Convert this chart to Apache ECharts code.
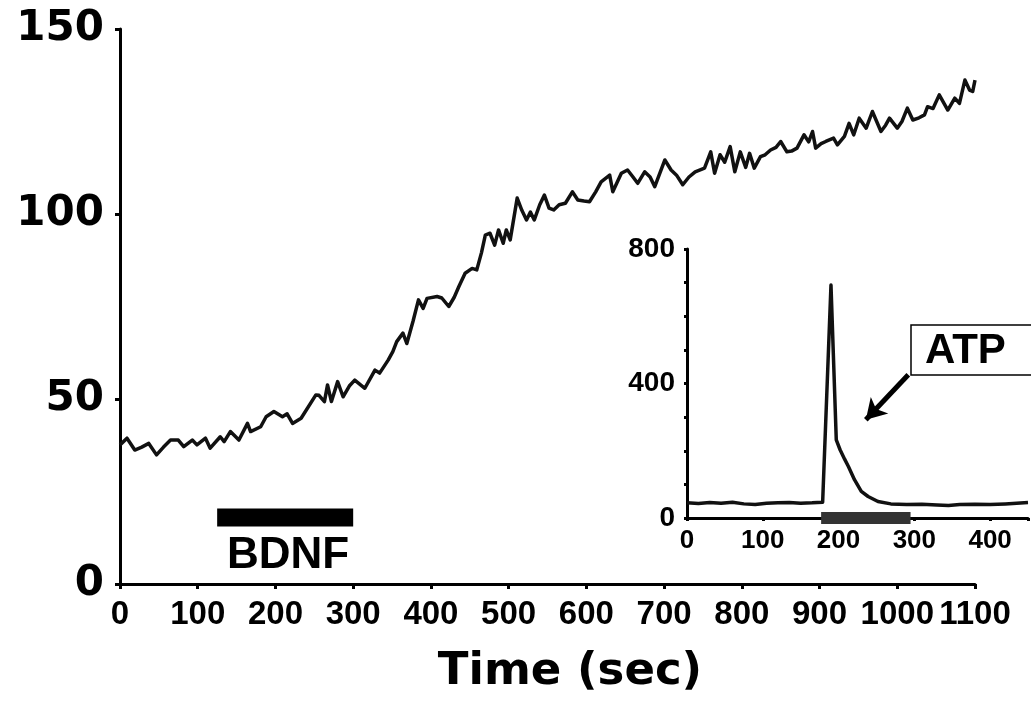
<!DOCTYPE html>
<html><head><meta charset="utf-8">
<script src="https://cdn.jsdelivr.net/npm/echarts/dist/echarts.min.js"></script>
<style>html,body{margin:0;padding:0;background:#fff}#c{width:1031px;height:713px}</style>
</head><body><div id="c"></div>
<script>
// Main trace (time in sec, signal)
const mainTime = [0,9,19,28,37,47,56,65,75,82,93,99,110,116,129,134,142,153,164,168,181,188,198,209,215,222,233,252,256,263,267,272,280,287,295,302,315,328,334,345,351,356,364,369,377,384,390,395,408,414,423,430,436,444,453,459,465,470,476,482,487,493,497,502,511,517,523,528,533,540,546,552,558,565,573,582,589,597,604,612,619,630,634,645,653,660,666,675,682,688,701,709,716,724,732,740,752,760,765,772,778,785,791,798,805,810,816,824,830,837,844,850,858,864,871,880,886,891,895,902,908,918,923,932,938,944,951,960,968,979,985,990,1000,1006,1013,1020,1028,1035,1039,1046,1054,1065,1074,1080,1087,1093,1097,1100];
const mainSignal = [37.6,39.4,36.2,37.0,38.0,34.9,37.0,38.9,38.9,37.1,38.9,37.6,39.4,36.7,39.8,38.5,41.2,38.9,43.4,41.2,42.5,45.2,46.6,45.2,46.0,43.4,44.8,51.1,51.0,49.3,53.8,49.3,54.7,50.6,53.5,55.1,52.9,57.8,57.0,60.5,62.8,65.5,67.8,65.0,71.0,76.8,74.5,77.2,77.7,77.3,75.0,77.5,80.4,84.0,85.3,84.9,89.5,94.3,94.8,91.6,95.7,92.1,95.7,93.0,104.3,101.0,98.4,100.5,98.4,102.5,105.1,101.6,101.1,102.5,102.9,106.0,103.8,103.5,103.3,106.0,108.7,110.5,106.0,111.0,111.9,110.0,108.3,111.4,110.0,107.4,114.6,111.9,110.5,107.9,110.0,111.4,112.4,116.8,111.0,116.0,114.0,118.2,111.4,116.8,112.6,116.4,112.4,115.5,116.0,117.3,118.0,119.6,116.8,117.0,117.8,121.4,119.5,122.3,117.8,119.0,119.6,120.5,118.7,121.0,124.5,121.4,125.9,123.2,127.7,122.3,124.0,125.9,123.2,125.0,128.6,125.4,126.0,126.8,129.0,128.5,132.2,128.1,131.3,129.9,136.2,133.5,133.1,136.2];
const bdnfPeriod = [125, 300];
const bdnfLevel = 18;
const mainXTicks = [0,100,200,300,400,500,600,700,800,900,1000,1100];
const mainYTicks = [0,50,100,150];

// Inset trace
const insetTime = [0,15,30,45,60,75,90,105,120,135,150,165,179,190,197,202,208,213,221,230,239,252,269,290,310,330,345,360,380,400,420,435,450];
const insetSignal = [45,43,46,44,47,42,40,44,45,46,44,45,47,693,232,203,175,153,114,79,64,49,42,40,41,39,37,40,41,40,42,44,46];
const atpPeriod = [177, 295];
const insetYTicks = [0,400,800];
const arrowFrom = [292, 426];
const arrowTo = [236, 292];

const chart = echarts.init(document.getElementById('c'), null, {renderer:'canvas'});
const black = '#000';
const axisCommon = (w) => ({
  axisLine:{show:true, onZero:false, lineStyle:{color:black, width:w}},
  splitLine:{show:false}
});
const option = {
  animation:false,
  backgroundColor:'#fff',
  grid:[
    {left:120, top:29, width:855, height:555},
    {left:687, top:249, width:345, height:269}
  ],
  xAxis:[
    Object.assign({gridIndex:0, type:'value', min:0, max:1100, interval:100,
      axisTick:{show:true, length:5, lineStyle:{color:black, width:3}},
      axisLabel:{color:black, fontFamily:'Liberation Sans', fontWeight:'bold', fontSize:33, margin:14,
        showMinLabel:true, showMaxLabel:true, hideOverlap:false,
        formatter:v => mainXTicks.includes(v) ? String(v) : ''}}, axisCommon(3)),
    Object.assign({gridIndex:1, type:'value', min:0, max:450, interval:100,
      axisTick:{show:true, length:3, lineStyle:{color:black, width:3}},
      axisLabel:{color:black, fontFamily:'Liberation Sans', fontWeight:'bold', fontSize:26, margin:10,
        formatter:v => (v % 100 === 0) ? String(v) : ''}}, axisCommon(3))
  ],
  yAxis:[
    Object.assign({gridIndex:0, type:'value', min:0, max:150, interval:50,
      axisTick:{show:true, length:5, lineStyle:{color:black, width:3}},
      axisLabel:{color:black, fontFamily:'DejaVu Sans', fontWeight:'bold', fontSize:42, margin:16,
        formatter:v => mainYTicks.includes(v) ? String(v) : ''}}, axisCommon(3)),
    Object.assign({gridIndex:1, type:'value', min:0, max:800, interval:400,
      axisTick:{show:true, length:3, lineStyle:{color:black, width:3}},
      minorTick:{show:true, splitNumber:4, length:3, lineStyle:{color:black, width:3}},
      axisLabel:{color:black, fontFamily:'Liberation Sans', fontWeight:'bold', fontSize:28, margin:12,
        formatter:v => insetYTicks.includes(v) ? String(v) : ''}}, axisCommon(3))
  ],
  series:[
    {type:'line', xAxisIndex:0, yAxisIndex:0, showSymbol:false, symbol:'none',
      data: mainTime.map((t,i)=>[t, mainSignal[i]]),
      lineStyle:{color:'#111', width:3.5, join:'round'}, z:5},
    {type:'line', xAxisIndex:0, yAxisIndex:0, symbol:'none',
      data: bdnfPeriod.map(t=>[t, bdnfLevel]),
      lineStyle:{color:black, width:18, cap:'butt'}},
    {type:'line', xAxisIndex:1, yAxisIndex:1, symbol:'none',
      data: insetTime.map((t,i)=>[t, insetSignal[i]]),
      lineStyle:{color:'#111', width:3.5, join:'round'},
      markLine:{silent:true, symbol:['none','arrow'], symbolSize:[18,20], label:{show:false},
        lineStyle:{color:black, width:5, type:'solid'},
        data:[[{coord:arrowFrom},{coord:arrowTo}]]}},
    {type:'line', xAxisIndex:1, yAxisIndex:1, symbol:'none', clip:false, z:6,
      data: atpPeriod.map(t=>[t, 0]),
      lineStyle:{color:'#333', width:12, cap:'butt'}}
  ],
  graphic:[
    {type:'rect', shape:{x:911, y:325, width:140, height:50}, style:{fill:'#fff', stroke:black, lineWidth:1.5}, z:10},
    {type:'text', x:925, y:351, z:11, style:{text:'ATP', font:'bold 42px "Liberation Sans"', fill:black, textVerticalAlign:'middle', verticalAlign:'middle'}},
    {type:'text', x:288, y:556, z:11, style:{text:'BDNF', font:'bold 44px "Liberation Sans"', fill:black, textAlign:'center', align:'center', verticalAlign:'middle', textVerticalAlign:'middle'}},
    {type:'text', x:570, y:672, z:11, style:{text:'Time (sec)', font:'bold 45px "DejaVu Sans"', fill:black, textAlign:'center', align:'center', verticalAlign:'middle', textVerticalAlign:'middle'}}
  ]
};
chart.setOption(option);
</script></body></html>
